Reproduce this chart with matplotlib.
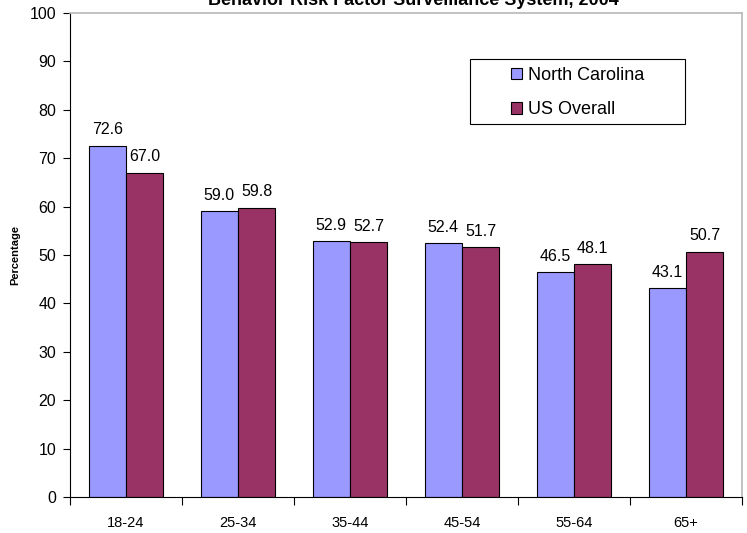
import numpy as np
import matplotlib
matplotlib.use("Agg")
import matplotlib.pyplot as plt
from matplotlib.patches import Rectangle

plt.rcParams['font.family'] = ['Liberation Sans', 'DejaVu Sans']

# age groups and percentages
age_groups = ["18-24", "25-34", "35-44", "45-54", "55-64", "65+"]
nc_values = [72.6, 59.0, 52.9, 52.4, 46.5, 43.1]
us_values = [67.0, 59.8, 52.7, 51.7, 48.1, 50.7]
series_names = ["North Carolina", "US Overall"]

nc_color = "#9999FF"
us_color = "#993366"

W, H = 747, 533
fig = plt.figure(figsize=(W / 100, H / 100), dpi=100)
ax = fig.add_axes([70 / W, 36 / H, 672 / W, 484 / H])

x = np.arange(len(age_groups))
w = 1 / 3
b1 = ax.bar(x - w / 2, nc_values, w, color=nc_color, edgecolor="black", linewidth=0.8,
            label=series_names[0])
b2 = ax.bar(x + w / 2, us_values, w, color=us_color, edgecolor="black", linewidth=0.8,
            label=series_names[1])

for bars, vals in [(b1, nc_values), (b2, us_values)]:
    for r, v in zip(bars, vals):
        ax.text(r.get_x() + r.get_width() / 2, v + 1.7, f"{v:.1f}",
                ha="center", va="bottom", fontsize=11.5)

ax.set_xlim(-0.5, len(age_groups) - 0.5)
ax.set_ylim(0, 100)
ax.set_yticks(np.arange(0, 101, 10))
ax.tick_params(axis="y", direction="out", length=5, width=0.8, pad=5, labelsize=11.5)

# tick marks on category boundaries, labels at group centres
ax.set_xticks(np.arange(-0.5, len(age_groups), 1))
ax.set_xticklabels([])
ax.set_xticks(x, minor=True)
ax.set_xticklabels(age_groups, minor=True)
ax.tick_params(axis="x", which="major", direction="out", length=6, width=0.8)
ax.tick_params(axis="x", which="minor", length=0, pad=14, labelsize=10.5)

for side in ["left", "bottom"]:
    ax.spines[side].set_color("black")
    ax.spines[side].set_linewidth(0.8)
for side in ["top", "right"]:
    ax.spines[side].set_color("#B8B8B8")
    ax.spines[side].set_linewidth(1.2)

ax.set_ylabel("Percentage", fontsize=8, fontweight="bold", labelpad=7)

# legend box drawn separately so it can be wider than its entries
fig.patches.append(Rectangle((470 / W, 1 - 124 / H), 215 / W, 65 / H,
                             transform=fig.transFigure, facecolor="white",
                             edgecolor="black", linewidth=0.8, zorder=5))
leg = fig.legend(handles=[b1, b2], loc="upper left",
                 bbox_to_anchor=(511 / W, 1 - 67 / H),
                 fontsize=13, frameon=False, borderpad=0, borderaxespad=0,
                 labelspacing=0.95, handlelength=0.6, handleheight=0.6,
                 handletextpad=0.35)
leg.set_zorder(6)

fig.text(413 / W, 1 - 5 / H, "Behavior Risk Factor Surveillance System, 2004",
         ha="center", va="baseline", fontsize=13, fontweight="bold")

fig.savefig("out.png", dpi=100)
